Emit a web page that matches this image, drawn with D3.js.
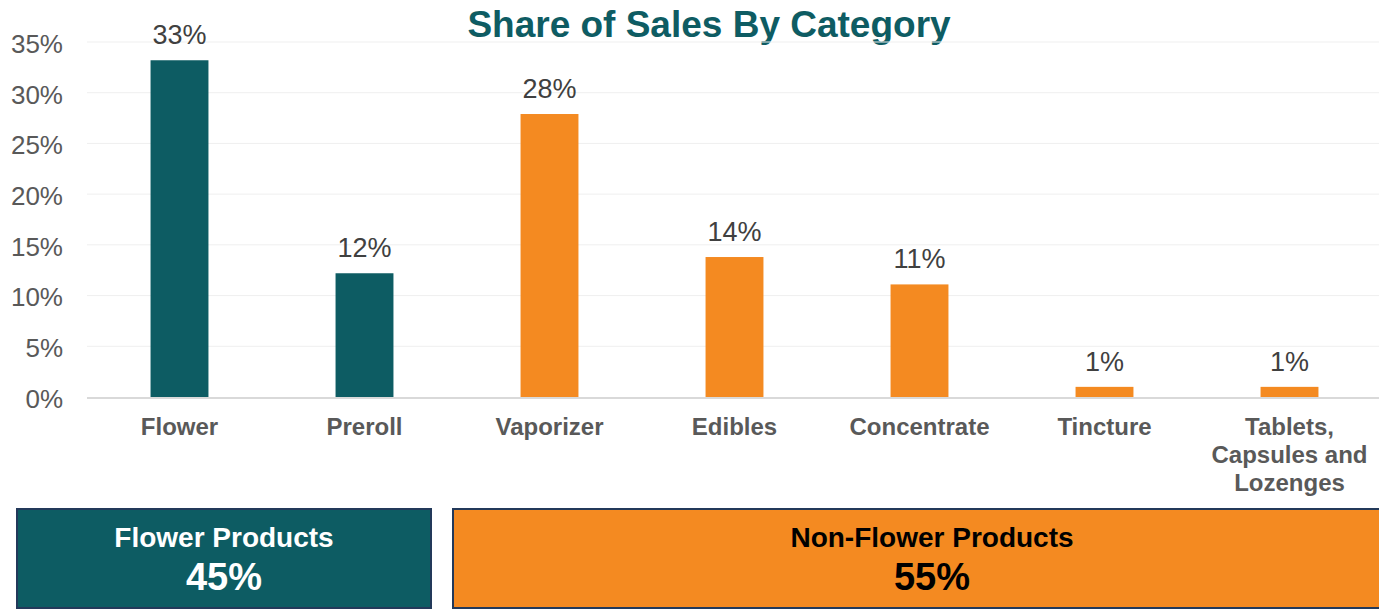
<!DOCTYPE html>
<html>
<head>
<meta charset="utf-8">
<script src="https://cdn.jsdelivr.net/npm/d3@7"></script>
<style>
  html, body { margin: 0; padding: 0; background: #fff; }
  svg { display: block; font-family: "Liberation Sans", Arial, sans-serif; }
</style>
</head>
<body>
<svg id="chart" width="1379" height="612"></svg>
<script>
const categories = ["Flower", "Preroll", "Vaporizer", "Edibles", "Concentrate", "Tincture", "Tablets, Capsules and Lozenges"];
const values = [33.2, 12.2, 27.9, 13.8, 11.1, 1.0, 1.0];
const valueLabels = ["33%", "12%", "28%", "14%", "11%", "1%", "1%"];
const groups = ["Flower", "Flower", "Non-Flower", "Non-Flower", "Non-Flower", "Non-Flower", "Non-Flower"];
const yTicks = [0, 5, 10, 15, 20, 25, 30, 35];
const summaryNames = ["Flower Products", "Non-Flower Products"];
const summaryValues = ["45%", "55%"];

const teal = "#0d5c63", orange = "#f48a21";
const svg = d3.select("#chart");

const x = d3.scaleBand().domain(categories).range([87, 1382]).paddingInner(0.687).paddingOuter(0.3435);
const y = d3.scaleLinear().domain([0, 35]).range([397, 42]);

// Title
svg.append("text").attr("x", 709).attr("y", 37).attr("text-anchor", "middle")
  .attr("font-size", 37).attr("font-weight", "bold").attr("fill", "#0e5c63")
  .text("Share of Sales By Category");

// Gridlines
svg.append("g").selectAll("line").data(yTicks.filter(d => d > 0)).join("line")
  .attr("x1", 87).attr("x2", 1379).attr("y1", d => y(d)).attr("y2", d => y(d))
  .attr("stroke", "#efefef").attr("stroke-width", 1);

// Y axis
const yAxis = svg.append("g").attr("transform", "translate(87,2)")
  .call(d3.axisLeft(y).tickValues(yTicks).tickFormat(d => d + "%").tickSize(0).tickPadding(24));
yAxis.select(".domain").remove();
yAxis.selectAll("text").attr("font-size", 26).attr("fill", "#595959")
  .attr("font-family", "'Liberation Sans', Arial, sans-serif");

// Bars
svg.append("g").selectAll("rect").data(categories).join("rect")
  .attr("x", d => x(d)).attr("width", x.bandwidth())
  .attr("y", (d, i) => y(values[i])).attr("height", (d, i) => y(0) - y(values[i]))
  .attr("fill", (d, i) => groups[i] === "Flower" ? teal : orange);

// Baseline
svg.append("line").attr("x1", 87).attr("x2", 1379).attr("y1", y(0) + 1).attr("y2", y(0) + 1)
  .attr("stroke", "#d9d9d9").attr("stroke-width", 2);

// Value labels
svg.append("g").selectAll("text").data(categories).join("text")
  .attr("x", d => x(d) + x.bandwidth() / 2)
  .attr("y", (d, i) => y(values[i]) - 16)
  .attr("text-anchor", "middle").attr("font-size", 27).attr("fill", "#404040")
  .text((d, i) => valueLabels[i]);

// Category labels (wrapped)
const measure = svg.append("text").attr("font-size", 24).attr("font-weight", "bold").attr("visibility", "hidden");
function wrap(str, maxW) {
  const words = str.split(" "); const lines = []; let cur = "";
  words.forEach(w => {
    const test = cur ? cur + " " + w : w;
    measure.text(test);
    if (measure.node().getComputedTextLength() > maxW && cur) { lines.push(cur); cur = w; }
    else cur = test;
  });
  if (cur) lines.push(cur);
  return lines;
}
const catG = svg.append("g");
categories.forEach(c => {
  const lines = wrap(c, 170);
  const t = catG.append("text").attr("text-anchor", "middle").attr("font-size", 24)
    .attr("font-weight", "bold").attr("fill", "#595959");
  lines.forEach((l, j) => {
    t.append("tspan").attr("x", x(c) + x.bandwidth() / 2).attr("y", 435 + j * 28).text(l);
  });
});
measure.remove();

// Summary boxes
const boxes = [
  { x0: 17, x1: 431, fill: teal, txt: "#ffffff", cx: 224 },
  { x0: 453, x1: 1412, fill: orange, txt: "#000000", cx: 932 }
];
boxes.forEach((b, i) => {
  svg.append("rect").attr("x", b.x0).attr("y", 509).attr("width", b.x1 - b.x0).attr("height", 99)
    .attr("fill", b.fill).attr("stroke", "#23395a").attr("stroke-width", 2);
  svg.append("text").attr("x", b.cx).attr("y", 547).attr("text-anchor", "middle")
    .attr("font-size", 28).attr("font-weight", "bold").attr("fill", b.txt).text(summaryNames[i]);
  svg.append("text").attr("x", b.cx).attr("y", 590).attr("text-anchor", "middle")
    .attr("font-size", 38).attr("font-weight", "bold").attr("fill", b.txt).text(summaryValues[i]);
});
</script>
</body>
</html>
